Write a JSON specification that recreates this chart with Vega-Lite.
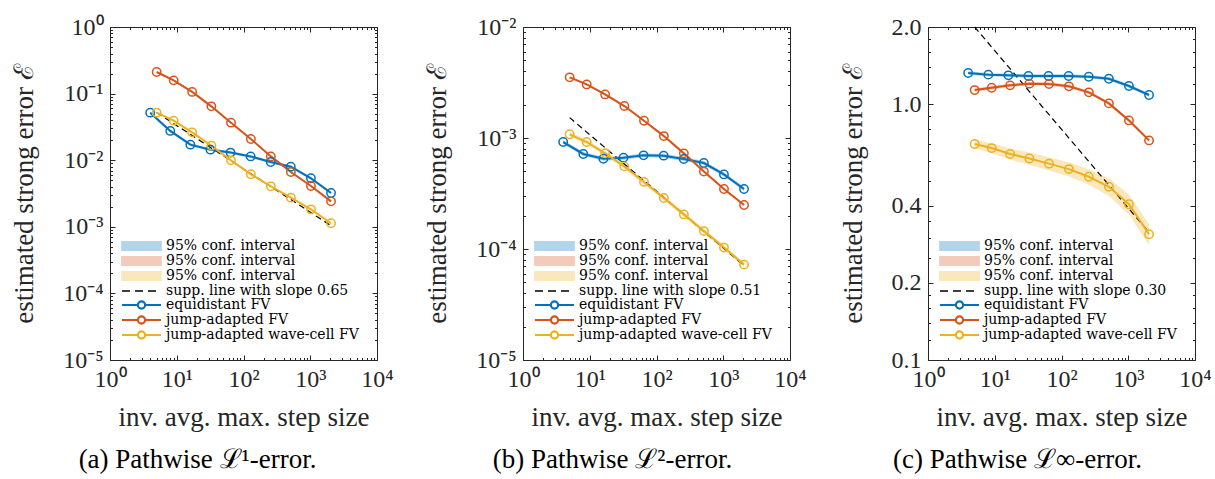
{
  "$schema": "https://vega.github.io/schema/vega-lite/v6.json",
  "padding": {"left": 10, "top": 15, "right": 5, "bottom": 5},
  "bounds": "flush",
  "spacing": 146,
  "config": {
    "font": "Liberation Serif",
    "view": {"stroke": null},
    "axis": {"domainColor": "#262626", "tickColor": "#262626", "labelColor": "#262626", "titleColor": "#262626", "labelFont": "Liberation Serif", "titleFont": "Liberation Serif", "labelFontSize": 24, "titleFontSize": 27, "titleFontWeight": "normal", "grid": false, "tickWidth": 1, "domainWidth": 1},
    "legend": {"labelFont": "DejaVu Serif", "labelFontSize": 14, "labelColor": "#000000", "labelLimit": 400, "title": null, "orient": "none", "legendX": 10, "legendY": 212, "padding": 0, "rowPadding": -2},
    "title": {"font": "Liberation Serif", "fontSize": 27, "fontWeight": "normal", "color": "#000000"}
  },
  "resolve": {"scale": {"color": "independent", "x": "independent", "y": "independent"}, "legend": {"color": "independent"}},
  "hconcat": [
    {
      "width": 267, "height": 333,
      "title": {"text": "(a) Pathwise ℒ¹-error.", "orient": "bottom", "anchor": "middle", "dx": -46, "offset": 16, "font": "Liberation Serif"},
      "resolve": {"axis": {"x": "independent", "y": "independent"}},
      "layer": [
        {
          "data": {"values": [
            {"key": "ci1", "x": 4, "lo": 0.0491, "hi": 0.0543}, {"key": "ci1", "x": 8, "lo": 0.0261, "hi": 0.0289}, {"key": "ci1", "x": 16, "lo": 0.0162, "hi": 0.0180}, {"key": "ci1", "x": 32, "lo": 0.0137, "hi": 0.0151}, {"key": "ci1", "x": 64, "lo": 0.01235, "hi": 0.01365}, {"key": "ci1", "x": 128, "lo": 0.01083, "hi": 0.01197}, {"key": "ci1", "x": 256, "lo": 0.00893, "hi": 0.00987}, {"key": "ci1", "x": 512, "lo": 0.0076, "hi": 0.0084}, {"key": "ci1", "x": 1024, "lo": 0.00508, "hi": 0.00562}, {"key": "ci1", "x": 2048, "lo": 0.00306, "hi": 0.00338},
            {"key": "ci2", "x": 5, "lo": 0.2047, "hi": 0.2173}, {"key": "ci2", "x": 9, "lo": 0.1533, "hi": 0.1627}, {"key": "ci2", "x": 17, "lo": 0.1028, "hi": 0.1092}, {"key": "ci2", "x": 33, "lo": 0.0625, "hi": 0.0663}, {"key": "ci2", "x": 65, "lo": 0.0355, "hi": 0.0377}, {"key": "ci2", "x": 129, "lo": 0.0202, "hi": 0.0214}, {"key": "ci2", "x": 257, "lo": 0.01106, "hi": 0.01174}, {"key": "ci2", "x": 513, "lo": 0.00645, "hi": 0.00685}, {"key": "ci2", "x": 1025, "lo": 0.00398, "hi": 0.00422}, {"key": "ci2", "x": 2049, "lo": 0.00234, "hi": 0.00248},
            {"key": "ci3", "x": 5, "lo": 0.0501, "hi": 0.0533}, {"key": "ci3", "x": 9, "lo": 0.0380, "hi": 0.0404}, {"key": "ci3", "x": 17, "lo": 0.0254, "hi": 0.0270}, {"key": "ci3", "x": 33, "lo": 0.0160, "hi": 0.0170}, {"key": "ci3", "x": 65, "lo": 0.00966, "hi": 0.01026}, {"key": "ci3", "x": 129, "lo": 0.00596, "hi": 0.00632}, {"key": "ci3", "x": 257, "lo": 0.00393, "hi": 0.00417}, {"key": "ci3", "x": 513, "lo": 0.00266, "hi": 0.00282}, {"key": "ci3", "x": 1025, "lo": 0.00178, "hi": 0.00188}, {"key": "ci3", "x": 2049, "lo": 0.00110, "hi": 0.00116}
          ]},
          "mark": {"type": "area", "opacity": 1},
          "encoding": {
            "x": {"field": "x", "type": "quantitative", "scale": {"type": "log", "domain": [1, 10000], "nice": false},
              "axis": {"orient": "bottom", "values": [1,2,3,4,5,6,7,8,9,10,20,30,40,50,60,70,80,90,100,200,300,400,500,600,700,800,900,1000,2000,3000,4000,5000,6000,7000,8000,9000,10000],
                "labelExpr": "datum.value == 1 ? '10⁰' : datum.value == 10 ? '10¹' : datum.value == 100 ? '10²' : datum.value == 1000 ? '10³' : datum.value == 10000 ? '10⁴' : ''",
                "tickSize": {"condition": {"test": "indexof([1,10,100,1000,10000], datum.value) >= 0", "value": -5}, "value": -2.5},
                "labelPadding": 12, "labelOverlap": false, "labelFlush": false, "title": "inv. avg. max. step size", "titlePadding": 11}},
            "y": {"field": "lo", "type": "quantitative", "stack": null, "scale": {"type": "log", "domain": [0.00001, 1], "nice": false},
              "axis": {"orient": "left", "values": [0.00001,0.00002,0.00003,0.00004,0.00005,0.00006,0.00007,0.00008,0.00009,0.0001,0.0002,0.0003,0.0004,0.0005,0.0006,0.0007,0.0008,0.0009,0.001,0.002,0.003,0.004,0.005,0.006,0.007,0.008,0.009,0.01,0.02,0.03,0.04,0.05,0.06,0.07,0.08,0.09,0.1,0.2,0.3,0.4,0.5,0.6,0.7,0.8,0.9,1],
                "labelExpr": "datum.value == 1 ? '10⁰' : datum.value == 0.1 ? '10⁻¹' : datum.value == 0.01 ? '10⁻²' : datum.value == 0.001 ? '10⁻³' : datum.value == 0.0001 ? '10⁻⁴' : datum.value == 0.00001 ? '10⁻⁵' : ''",
                "tickSize": {"condition": {"test": "indexof([1,0.1,0.01,0.001,0.0001,0.00001], datum.value) >= 0", "value": -5}, "value": -2.5},
                "labelPadding": 12, "labelOverlap": false, "labelFlush": false, "title": "estimated strong error ℰ", "titlePadding": 24}},
            "y2": {"field": "hi"},
            "color": {"field": "key", "type": "nominal",
              "scale": {"domain": ["ci1","ci2","ci3","supp","eq","ja","wc"], "range": ["#b3d5eb","#f4cbba","#fae8bc","#000000","#0072bd","#d95319","#edb120"]},
              "legend": {
                "labelExpr": "datum.value == 'supp' ? 'supp. line with slope 0.65' : datum.value == 'eq' ? 'equidistant FV' : datum.value == 'ja' ? 'jump-adapted FV' : datum.value == 'wc' ? 'jump-adapted wave-cell FV' : '95% conf. interval'",
                "symbolType": {"expr": "indexof(['ci1','ci2','ci3'], datum.value) >= 0 ? 'M-1,-0.8H6.8V0.8H-1Z' : datum.value == 'supp' ? 'M-1,0H6.8' : 'M-1,0H2.14M3.66,0H6.8M3.66,0A0.76,0.76,0,1,0,2.14,0A0.76,0.76,0,1,0,3.66,0ZM3.58,0A0.68,0.68,0,1,1,2.22,0A0.68,0.68,0,1,1,3.58,0Z'"},
                "symbolDash": {"expr": "datum.value == 'supp' ? [8,5] : []"},
                "symbolStrokeWidth": {"expr": "datum.value == 'supp' ? 1.3 : 1.8"},
                "symbolFillColor": {"expr": "datum.value == 'ci1' ? '#b3d5eb' : datum.value == 'ci2' ? '#f4cbba' : datum.value == 'ci3' ? '#fae8bc' : datum.value == 'supp' ? '#000000' : datum.value == 'eq' ? '#0072bd' : datum.value == 'ja' ? '#d95319' : '#edb120'"},
                "symbolStrokeColor": {"expr": "datum.value == 'ci1' ? '#b3d5eb' : datum.value == 'ci2' ? '#f4cbba' : datum.value == 'ci3' ? '#fae8bc' : datum.value == 'supp' ? '#000000' : datum.value == 'eq' ? '#0072bd' : datum.value == 'ja' ? '#d95319' : '#edb120'"},
                "symbolOpacity": 1, "symbolSize": 100, "labelOffset": 32, "rowPadding": -2}}
          }
        },
        {
          "data": {"values": [{"key": "supp", "x": 5, "y": 0.052}, {"key": "supp", "x": 2049, "y": 0.00104}]},
          "mark": {"type": "line", "strokeDash": [6, 4], "strokeWidth": 1.2},
          "encoding": {
            "x": {"field": "x", "type": "quantitative", "axis": {"orient": "top", "values": [1,2,3,4,5,6,7,8,9,10,20,30,40,50,60,70,80,90,100,200,300,400,500,600,700,800,900,1000,2000,3000,4000,5000,6000,7000,8000,9000,10000], "labels": false, "title": null,
              "tickSize": {"condition": {"test": "indexof([1,10,100,1000,10000], datum.value) >= 0", "value": -5}, "value": -2.5}}},
            "y": {"field": "y", "type": "quantitative", "axis": {"orient": "right", "values": [0.00001,0.00002,0.00003,0.00004,0.00005,0.00006,0.00007,0.00008,0.00009,0.0001,0.0002,0.0003,0.0004,0.0005,0.0006,0.0007,0.0008,0.0009,0.001,0.002,0.003,0.004,0.005,0.006,0.007,0.008,0.009,0.01,0.02,0.03,0.04,0.05,0.06,0.07,0.08,0.09,0.1,0.2,0.3,0.4,0.5,0.6,0.7,0.8,0.9,1], "labels": false, "title": null,
              "tickSize": {"condition": {"test": "indexof([1,0.1,0.01,0.001,0.0001,0.00001], datum.value) >= 0", "value": -5}, "value": -2.5}}},
            "color": {"field": "key", "type": "nominal"}
          }
        },
        {
          "data": {"values": [
            {"key": "eq", "x": 4, "y": 0.0517}, {"key": "eq", "x": 8, "y": 0.0275}, {"key": "eq", "x": 16, "y": 0.0171}, {"key": "eq", "x": 32, "y": 0.0144}, {"key": "eq", "x": 64, "y": 0.0130}, {"key": "eq", "x": 128, "y": 0.0114}, {"key": "eq", "x": 256, "y": 0.0094}, {"key": "eq", "x": 512, "y": 0.0080}, {"key": "eq", "x": 1024, "y": 0.00535}, {"key": "eq", "x": 2048, "y": 0.00322},
            {"key": "ja", "x": 5, "y": 0.211}, {"key": "ja", "x": 9, "y": 0.158}, {"key": "ja", "x": 17, "y": 0.106}, {"key": "ja", "x": 33, "y": 0.0644}, {"key": "ja", "x": 65, "y": 0.0366}, {"key": "ja", "x": 129, "y": 0.0208}, {"key": "ja", "x": 257, "y": 0.0114}, {"key": "ja", "x": 513, "y": 0.00665}, {"key": "ja", "x": 1025, "y": 0.0041}, {"key": "ja", "x": 2049, "y": 0.00241},
            {"key": "wc", "x": 5, "y": 0.0517}, {"key": "wc", "x": 9, "y": 0.0392}, {"key": "wc", "x": 17, "y": 0.0262}, {"key": "wc", "x": 33, "y": 0.0165}, {"key": "wc", "x": 65, "y": 0.00996}, {"key": "wc", "x": 129, "y": 0.00614}, {"key": "wc", "x": 257, "y": 0.00405}, {"key": "wc", "x": 513, "y": 0.00274}, {"key": "wc", "x": 1025, "y": 0.00183}, {"key": "wc", "x": 2049, "y": 0.00113}
          ]},
          "mark": {"type": "line", "strokeWidth": 2, "point": {"filled": false, "size": 70, "strokeWidth": 1.5}},
          "encoding": {
            "x": {"field": "x", "type": "quantitative", "axis": null},
            "y": {"field": "y", "type": "quantitative", "axis": null},
            "color": {"field": "key", "type": "nominal"}
          }
        }
      ]
    },
    {
      "bounds": "flush",
      "spacing": 138,
      "resolve": {"scale": {"color": "independent", "x": "independent", "y": "independent"}, "legend": {"color": "independent"}},
      "hconcat": [
        {
          "width": 267, "height": 333,
          "title": {"text": "(b) Pathwise ℒ²-error.", "orient": "bottom", "anchor": "middle", "dx": -44, "offset": 16, "font": "Liberation Serif"},
          "resolve": {"axis": {"x": "independent", "y": "independent"}},
          "layer": [
            {
              "data": {"values": [
                {"key": "ci1", "x": 4, "lo": 0.000883, "hi": 0.000957}, {"key": "ci1", "x": 8, "lo": 0.000689, "hi": 0.000747}, {"key": "ci1", "x": 16, "lo": 0.000624, "hi": 0.000676}, {"key": "ci1", "x": 32, "lo": 0.000638, "hi": 0.000692}, {"key": "ci1", "x": 64, "lo": 0.000670, "hi": 0.000726}, {"key": "ci1", "x": 128, "lo": 0.000665, "hi": 0.000721}, {"key": "ci1", "x": 256, "lo": 0.000621, "hi": 0.000673}, {"key": "ci1", "x": 512, "lo": 0.000571, "hi": 0.000619}, {"key": "ci1", "x": 1024, "lo": 0.000451, "hi": 0.000489}, {"key": "ci1", "x": 2048, "lo": 0.000333, "hi": 0.000361},
                {"key": "ci2", "x": 5, "lo": 0.00345, "hi": 0.00359}, {"key": "ci2", "x": 9, "lo": 0.00298, "hi": 0.00310}, {"key": "ci2", "x": 17, "lo": 0.00242, "hi": 0.00252}, {"key": "ci2", "x": 33, "lo": 0.00190, "hi": 0.00198}, {"key": "ci2", "x": 65, "lo": 0.00140, "hi": 0.00146}, {"key": "ci2", "x": 129, "lo": 0.00102, "hi": 0.00106}, {"key": "ci2", "x": 257, "lo": 0.000712, "hi": 0.000742}, {"key": "ci2", "x": 513, "lo": 0.000488, "hi": 0.000508}, {"key": "ci2", "x": 1025, "lo": 0.000340, "hi": 0.000354}, {"key": "ci2", "x": 2049, "lo": 0.000244, "hi": 0.000254},
                {"key": "ci3", "x": 5, "lo": 0.001026, "hi": 0.001134}, {"key": "ci3", "x": 9, "lo": 0.000874, "hi": 0.000966}, {"key": "ci3", "x": 17, "lo": 0.000692, "hi": 0.000764}, {"key": "ci3", "x": 33, "lo": 0.000527, "hi": 0.000583}, {"key": "ci3", "x": 65, "lo": 0.000382, "hi": 0.000422}, {"key": "ci3", "x": 129, "lo": 0.000274, "hi": 0.000302}, {"key": "ci3", "x": 257, "lo": 0.000195, "hi": 0.000215}, {"key": "ci3", "x": 513, "lo": 0.000138, "hi": 0.000152}, {"key": "ci3", "x": 1025, "lo": 0.000098, "hi": 0.000108}, {"key": "ci3", "x": 2049, "lo": 0.0000687, "hi": 0.0000759}
              ]},
              "mark": {"type": "area", "opacity": 1},
              "encoding": {
                "x": {"field": "x", "type": "quantitative", "scale": {"type": "log", "domain": [1, 10000], "nice": false},
                  "axis": {"orient": "bottom", "values": [1,2,3,4,5,6,7,8,9,10,20,30,40,50,60,70,80,90,100,200,300,400,500,600,700,800,900,1000,2000,3000,4000,5000,6000,7000,8000,9000,10000],
                    "labelExpr": "datum.value == 1 ? '10⁰' : datum.value == 10 ? '10¹' : datum.value == 100 ? '10²' : datum.value == 1000 ? '10³' : datum.value == 10000 ? '10⁴' : ''",
                    "tickSize": {"condition": {"test": "indexof([1,10,100,1000,10000], datum.value) >= 0", "value": -5}, "value": -2.5},
                    "labelPadding": 12, "labelOverlap": false, "labelFlush": false, "title": "inv. avg. max. step size", "titlePadding": 11}},
                "y": {"field": "lo", "type": "quantitative", "stack": null, "scale": {"type": "log", "domain": [0.00001, 0.01], "nice": false},
                  "axis": {"orient": "left", "values": [0.00001,0.00002,0.00003,0.00004,0.00005,0.00006,0.00007,0.00008,0.00009,0.0001,0.0002,0.0003,0.0004,0.0005,0.0006,0.0007,0.0008,0.0009,0.001,0.002,0.003,0.004,0.005,0.006,0.007,0.008,0.009,0.01],
                    "labelExpr": "datum.value == 0.01 ? '10⁻²' : datum.value == 0.001 ? '10⁻³' : datum.value == 0.0001 ? '10⁻⁴' : datum.value == 0.00001 ? '10⁻⁵' : ''",
                    "tickSize": {"condition": {"test": "indexof([0.01,0.001,0.0001,0.00001], datum.value) >= 0", "value": -5}, "value": -2.5},
                    "labelPadding": 12, "labelOverlap": false, "labelFlush": false, "title": "estimated strong error ℰ", "titlePadding": 24}},
                "y2": {"field": "hi"},
                "color": {"field": "key", "type": "nominal",
                  "scale": {"domain": ["ci1","ci2","ci3","supp","eq","ja","wc"], "range": ["#b3d5eb","#f4cbba","#fae8bc","#000000","#0072bd","#d95319","#edb120"]},
                  "legend": {
                    "labelExpr": "datum.value == 'supp' ? 'supp. line with slope 0.51' : datum.value == 'eq' ? 'equidistant FV' : datum.value == 'ja' ? 'jump-adapted FV' : datum.value == 'wc' ? 'jump-adapted wave-cell FV' : '95% conf. interval'",
                    "symbolType": {"expr": "indexof(['ci1','ci2','ci3'], datum.value) >= 0 ? 'M-1,-0.8H6.8V0.8H-1Z' : datum.value == 'supp' ? 'M-1,0H6.8' : 'M-1,0H2.14M3.66,0H6.8M3.66,0A0.76,0.76,0,1,0,2.14,0A0.76,0.76,0,1,0,3.66,0ZM3.58,0A0.68,0.68,0,1,1,2.22,0A0.68,0.68,0,1,1,3.58,0Z'"},
                    "symbolDash": {"expr": "datum.value == 'supp' ? [8,5] : []"},
                    "symbolStrokeWidth": {"expr": "datum.value == 'supp' ? 1.3 : 1.8"},
                    "symbolFillColor": {"expr": "datum.value == 'ci1' ? '#b3d5eb' : datum.value == 'ci2' ? '#f4cbba' : datum.value == 'ci3' ? '#fae8bc' : datum.value == 'supp' ? '#000000' : datum.value == 'eq' ? '#0072bd' : datum.value == 'ja' ? '#d95319' : '#edb120'"},
                    "symbolStrokeColor": {"expr": "datum.value == 'ci1' ? '#b3d5eb' : datum.value == 'ci2' ? '#f4cbba' : datum.value == 'ci3' ? '#fae8bc' : datum.value == 'supp' ? '#000000' : datum.value == 'eq' ? '#0072bd' : datum.value == 'ja' ? '#d95319' : '#edb120'"},
                    "symbolOpacity": 1, "symbolSize": 100, "labelOffset": 32, "rowPadding": -2}}
              }
            },
            {
              "data": {"values": [{"key": "supp", "x": 5, "y": 0.001525}, {"key": "supp", "x": 2049, "y": 0.000071}]},
              "mark": {"type": "line", "strokeDash": [6, 4], "strokeWidth": 1.2},
              "encoding": {
                "x": {"field": "x", "type": "quantitative", "axis": {"orient": "top", "values": [1,2,3,4,5,6,7,8,9,10,20,30,40,50,60,70,80,90,100,200,300,400,500,600,700,800,900,1000,2000,3000,4000,5000,6000,7000,8000,9000,10000], "labels": false, "title": null,
                  "tickSize": {"condition": {"test": "indexof([1,10,100,1000,10000], datum.value) >= 0", "value": -5}, "value": -2.5}}},
                "y": {"field": "y", "type": "quantitative", "axis": {"orient": "right", "values": [0.00001,0.00002,0.00003,0.00004,0.00005,0.00006,0.00007,0.00008,0.00009,0.0001,0.0002,0.0003,0.0004,0.0005,0.0006,0.0007,0.0008,0.0009,0.001,0.002,0.003,0.004,0.005,0.006,0.007,0.008,0.009,0.01], "labels": false, "title": null,
                  "tickSize": {"condition": {"test": "indexof([0.01,0.001,0.0001,0.00001], datum.value) >= 0", "value": -5}, "value": -2.5}}},
                "color": {"field": "key", "type": "nominal"}
              }
            },
            {
              "data": {"values": [
                {"key": "eq", "x": 4, "y": 0.00092}, {"key": "eq", "x": 8, "y": 0.000718}, {"key": "eq", "x": 16, "y": 0.00065}, {"key": "eq", "x": 32, "y": 0.000665}, {"key": "eq", "x": 64, "y": 0.000698}, {"key": "eq", "x": 128, "y": 0.000693}, {"key": "eq", "x": 256, "y": 0.000647}, {"key": "eq", "x": 512, "y": 0.000595}, {"key": "eq", "x": 1024, "y": 0.00047}, {"key": "eq", "x": 2048, "y": 0.000347},
                {"key": "ja", "x": 5, "y": 0.00352}, {"key": "ja", "x": 9, "y": 0.00304}, {"key": "ja", "x": 17, "y": 0.00247}, {"key": "ja", "x": 33, "y": 0.00194}, {"key": "ja", "x": 65, "y": 0.00143}, {"key": "ja", "x": 129, "y": 0.00104}, {"key": "ja", "x": 257, "y": 0.000727}, {"key": "ja", "x": 513, "y": 0.000498}, {"key": "ja", "x": 1025, "y": 0.000347}, {"key": "ja", "x": 2049, "y": 0.000249},
                {"key": "wc", "x": 5, "y": 0.00108}, {"key": "wc", "x": 9, "y": 0.00092}, {"key": "wc", "x": 17, "y": 0.000728}, {"key": "wc", "x": 33, "y": 0.000555}, {"key": "wc", "x": 65, "y": 0.000402}, {"key": "wc", "x": 129, "y": 0.000288}, {"key": "wc", "x": 257, "y": 0.000205}, {"key": "wc", "x": 513, "y": 0.000145}, {"key": "wc", "x": 1025, "y": 0.000103}, {"key": "wc", "x": 2049, "y": 0.0000723}
              ]},
              "mark": {"type": "line", "strokeWidth": 2, "point": {"filled": false, "size": 70, "strokeWidth": 1.5}},
              "encoding": {
                "x": {"field": "x", "type": "quantitative", "axis": null},
                "y": {"field": "y", "type": "quantitative", "axis": null},
                "color": {"field": "key", "type": "nominal"}
              }
            }
          ]
        },
        {
          "width": 267, "height": 333,
          "title": {"text": "(c) Pathwise ℒ∞-error.", "orient": "bottom", "anchor": "middle", "dx": -44, "offset": 16, "font": "Liberation Serif"},
          "resolve": {"axis": {"x": "independent", "y": "independent"}},
          "layer": [
            {
              "data": {"values": [
                {"key": "ci1", "x": 4, "lo": 1.302, "hi": 1.342}, {"key": "ci1", "x": 8, "lo": 1.283, "hi": 1.323}, {"key": "ci1", "x": 16, "lo": 1.276, "hi": 1.314}, {"key": "ci1", "x": 32, "lo": 1.268, "hi": 1.306}, {"key": "ci1", "x": 64, "lo": 1.268, "hi": 1.306}, {"key": "ci1", "x": 128, "lo": 1.268, "hi": 1.306}, {"key": "ci1", "x": 256, "lo": 1.260, "hi": 1.298}, {"key": "ci1", "x": 512, "lo": 1.237, "hi": 1.275}, {"key": "ci1", "x": 1024, "lo": 1.158, "hi": 1.194}, {"key": "ci1", "x": 2048, "lo": 1.069, "hi": 1.101},
                {"key": "ci2", "x": 5, "lo": 1.117, "hi": 1.151}, {"key": "ci2", "x": 9, "lo": 1.141, "hi": 1.175}, {"key": "ci2", "x": 17, "lo": 1.165, "hi": 1.201}, {"key": "ci2", "x": 33, "lo": 1.183, "hi": 1.219}, {"key": "ci2", "x": 65, "lo": 1.180, "hi": 1.216}, {"key": "ci2", "x": 129, "lo": 1.155, "hi": 1.191}, {"key": "ci2", "x": 257, "lo": 1.094, "hi": 1.128}, {"key": "ci2", "x": 513, "lo": 0.991, "hi": 1.021}, {"key": "ci2", "x": 1025, "lo": 0.850, "hi": 0.876}, {"key": "ci2", "x": 2049, "lo": 0.710, "hi": 0.732},
                {"key": "ci3", "x": 5, "lo": 0.670, "hi": 0.726}, {"key": "ci3", "x": 9, "lo": 0.643, "hi": 0.703}, {"key": "ci3", "x": 17, "lo": 0.606, "hi": 0.670}, {"key": "ci3", "x": 33, "lo": 0.579, "hi": 0.647}, {"key": "ci3", "x": 65, "lo": 0.550, "hi": 0.620}, {"key": "ci3", "x": 129, "lo": 0.521, "hi": 0.593}, {"key": "ci3", "x": 257, "lo": 0.484, "hi": 0.556}, {"key": "ci3", "x": 513, "lo": 0.437, "hi": 0.513}, {"key": "ci3", "x": 1025, "lo": 0.369, "hi": 0.443}, {"key": "ci3", "x": 2049, "lo": 0.281, "hi": 0.339}
              ]},
              "mark": {"type": "area", "opacity": 1},
              "encoding": {
                "x": {"field": "x", "type": "quantitative", "scale": {"type": "log", "domain": [1, 10000], "nice": false},
                  "axis": {"orient": "bottom", "values": [1,2,3,4,5,6,7,8,9,10,20,30,40,50,60,70,80,90,100,200,300,400,500,600,700,800,900,1000,2000,3000,4000,5000,6000,7000,8000,9000,10000],
                    "labelExpr": "datum.value == 1 ? '10⁰' : datum.value == 10 ? '10¹' : datum.value == 100 ? '10²' : datum.value == 1000 ? '10³' : datum.value == 10000 ? '10⁴' : ''",
                    "tickSize": {"condition": {"test": "indexof([1,10,100,1000,10000], datum.value) >= 0", "value": -5}, "value": -2.5},
                    "labelPadding": 12, "labelOverlap": false, "labelFlush": false, "title": "inv. avg. max. step size", "titlePadding": 11}},
                "y": {"field": "lo", "type": "quantitative", "stack": null, "scale": {"type": "log", "domain": [0.1, 2], "nice": false},
                  "axis": {"orient": "left", "values": [0.1,0.12,0.14,0.16,0.18,0.2,0.25,0.3,0.35,0.4,0.5,0.6,0.7,0.8,0.9,1,1.2,1.4,1.6,1.8,2],
                    "labelExpr": "datum.value == 0.1 ? '0.1' : datum.value == 0.2 ? '0.2' : datum.value == 0.4 ? '0.4' : datum.value == 1 ? '1.0' : datum.value == 2 ? '2.0' : ''",
                    "tickSize": {"condition": {"test": "indexof([0.1,0.2,0.4,1,2], datum.value) >= 0", "value": -5}, "value": -2.5},
                    "labelPadding": 12, "labelOverlap": false, "labelFlush": false, "title": "estimated strong error ℰ", "titlePadding": 24}},
                "y2": {"field": "hi"},
                "color": {"field": "key", "type": "nominal",
                  "scale": {"domain": ["ci1","ci2","ci3","supp","eq","ja","wc"], "range": ["#b3d5eb","#f4cbba","#fae8bc","#000000","#0072bd","#d95319","#edb120"]},
                  "legend": {
                    "labelExpr": "datum.value == 'supp' ? 'supp. line with slope 0.30' : datum.value == 'eq' ? 'equidistant FV' : datum.value == 'ja' ? 'jump-adapted FV' : datum.value == 'wc' ? 'jump-adapted wave-cell FV' : '95% conf. interval'",
                    "symbolType": {"expr": "indexof(['ci1','ci2','ci3'], datum.value) >= 0 ? 'M-1,-0.8H6.8V0.8H-1Z' : datum.value == 'supp' ? 'M-1,0H6.8' : 'M-1,0H2.14M3.66,0H6.8M3.66,0A0.76,0.76,0,1,0,2.14,0A0.76,0.76,0,1,0,3.66,0ZM3.58,0A0.68,0.68,0,1,1,2.22,0A0.68,0.68,0,1,1,3.58,0Z'"},
                    "symbolDash": {"expr": "datum.value == 'supp' ? [8,5] : []"},
                    "symbolStrokeWidth": {"expr": "datum.value == 'supp' ? 1.3 : 1.8"},
                    "symbolFillColor": {"expr": "datum.value == 'ci1' ? '#b3d5eb' : datum.value == 'ci2' ? '#f4cbba' : datum.value == 'ci3' ? '#fae8bc' : datum.value == 'supp' ? '#000000' : datum.value == 'eq' ? '#0072bd' : datum.value == 'ja' ? '#d95319' : '#edb120'"},
                    "symbolStrokeColor": {"expr": "datum.value == 'ci1' ? '#b3d5eb' : datum.value == 'ci2' ? '#f4cbba' : datum.value == 'ci3' ? '#fae8bc' : datum.value == 'supp' ? '#000000' : datum.value == 'eq' ? '#0072bd' : datum.value == 'ja' ? '#d95319' : '#edb120'"},
                    "symbolOpacity": 1, "symbolSize": 100, "labelOffset": 32, "rowPadding": -2}}
              }
            },
            {
              "data": {"values": [{"key": "supp", "x": 5, "y": 2.0}, {"key": "supp", "x": 2049, "y": 0.315}]},
              "mark": {"type": "line", "strokeDash": [6, 4], "strokeWidth": 1.2},
              "encoding": {
                "x": {"field": "x", "type": "quantitative", "axis": {"orient": "top", "values": [1,2,3,4,5,6,7,8,9,10,20,30,40,50,60,70,80,90,100,200,300,400,500,600,700,800,900,1000,2000,3000,4000,5000,6000,7000,8000,9000,10000], "labels": false, "title": null,
                  "tickSize": {"condition": {"test": "indexof([1,10,100,1000,10000], datum.value) >= 0", "value": -5}, "value": -2.5}}},
                "y": {"field": "y", "type": "quantitative", "axis": {"orient": "right", "values": [0.1,0.12,0.14,0.16,0.18,0.2,0.25,0.3,0.35,0.4,0.5,0.6,0.7,0.8,0.9,1,1.2,1.4,1.6,1.8,2], "labels": false, "title": null,
                  "tickSize": {"condition": {"test": "indexof([0.1,0.2,0.4,1,2], datum.value) >= 0", "value": -5}, "value": -2.5}}},
                "color": {"field": "key", "type": "nominal"}
              }
            },
            {
              "data": {"values": [
                {"key": "eq", "x": 4, "y": 1.322}, {"key": "eq", "x": 8, "y": 1.303}, {"key": "eq", "x": 16, "y": 1.295}, {"key": "eq", "x": 32, "y": 1.287}, {"key": "eq", "x": 64, "y": 1.287}, {"key": "eq", "x": 128, "y": 1.287}, {"key": "eq", "x": 256, "y": 1.279}, {"key": "eq", "x": 512, "y": 1.256}, {"key": "eq", "x": 1024, "y": 1.176}, {"key": "eq", "x": 2048, "y": 1.085},
                {"key": "ja", "x": 5, "y": 1.134}, {"key": "ja", "x": 9, "y": 1.158}, {"key": "ja", "x": 17, "y": 1.183}, {"key": "ja", "x": 33, "y": 1.201}, {"key": "ja", "x": 65, "y": 1.198}, {"key": "ja", "x": 129, "y": 1.173}, {"key": "ja", "x": 257, "y": 1.111}, {"key": "ja", "x": 513, "y": 1.006}, {"key": "ja", "x": 1025, "y": 0.863}, {"key": "ja", "x": 2049, "y": 0.721},
                {"key": "wc", "x": 5, "y": 0.698}, {"key": "wc", "x": 9, "y": 0.673}, {"key": "wc", "x": 17, "y": 0.638}, {"key": "wc", "x": 33, "y": 0.613}, {"key": "wc", "x": 65, "y": 0.585}, {"key": "wc", "x": 129, "y": 0.557}, {"key": "wc", "x": 257, "y": 0.520}, {"key": "wc", "x": 513, "y": 0.475}, {"key": "wc", "x": 1025, "y": 0.406}, {"key": "wc", "x": 2049, "y": 0.310}
              ]},
              "mark": {"type": "line", "strokeWidth": 2, "point": {"filled": false, "size": 70, "strokeWidth": 1.5}},
              "encoding": {
                "x": {"field": "x", "type": "quantitative", "axis": null},
                "y": {"field": "y", "type": "quantitative", "axis": null},
                "color": {"field": "key", "type": "nominal"}
              }
            }
          ]
        }
      ]
    }
  ]
}
